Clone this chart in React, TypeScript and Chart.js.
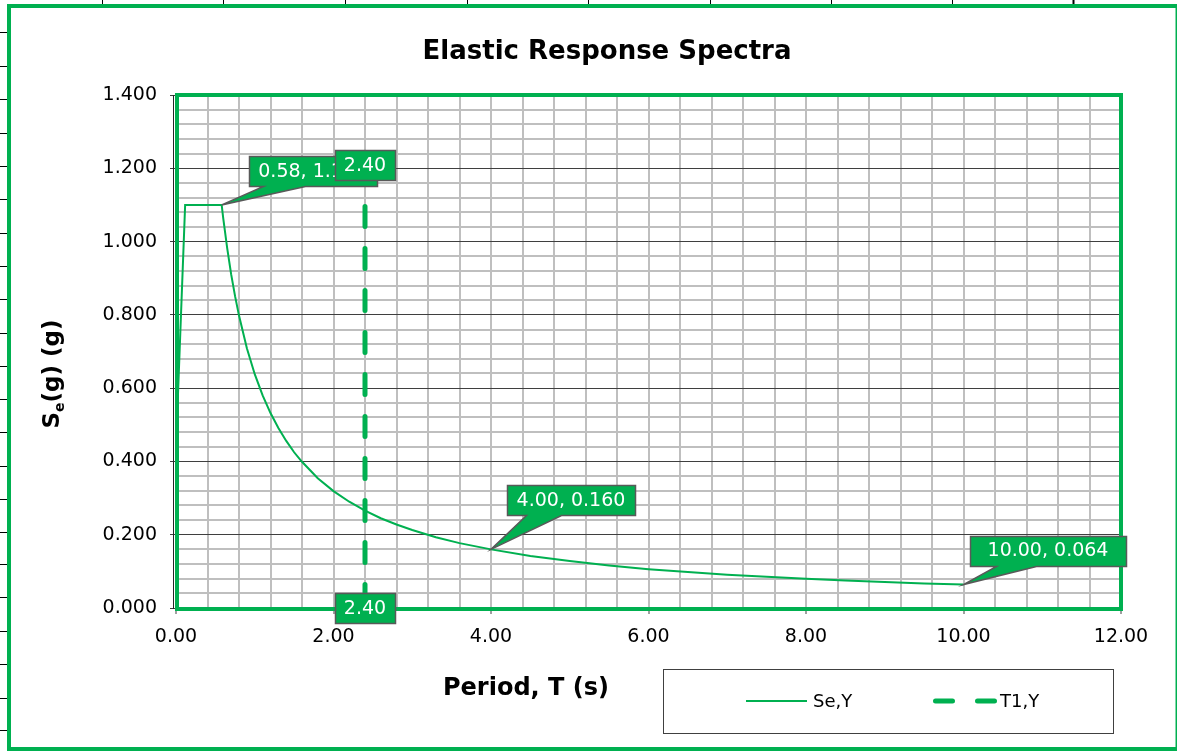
import React, { useEffect, useRef } from "react";
import { Chart, registerables } from "chart.js";

Chart.register(...registerables);

// ---------- data ----------
const chartTitle = "Elastic Response Spectra";
const xAxisTitle = "Period, T (s)";
const yTitleMain = "S";
const yTitleSub = "e";
const yTitleRest = "(g) (g)";
const seriesNames = ["Se,Y", "T1,Y"];

const seT = [0, 0.116, 0.58, 0.6, 0.65, 0.7, 0.75, 0.8, 0.9, 1.0, 1.1, 1.2, 1.3, 1.4, 1.5, 1.6, 1.8, 2.0, 2.2, 2.4, 2.6, 2.8, 3.0, 3.3, 3.6, 4.0, 4.5, 5.0, 5.5, 6.0, 6.5, 7.0, 7.5, 8.0, 8.5, 9.0, 9.5, 10.0];
const seSa = [0.44, 1.1, 1.1, 1.063, 0.982, 0.911, 0.851, 0.798, 0.709, 0.638, 0.58, 0.532, 0.491, 0.456, 0.425, 0.399, 0.354, 0.319, 0.29, 0.266, 0.245, 0.228, 0.213, 0.193, 0.177, 0.16, 0.142, 0.128, 0.116, 0.106, 0.098, 0.091, 0.085, 0.08, 0.075, 0.071, 0.067, 0.064];

const t1T = [2.4, 2.4];
const t1Sa = [1.21, 0];

const seLabelledT = [0.58, 4.0, 10.0];

const xMajorTicks = [0, 2, 4, 6, 8, 10, 12];
const yMajorTicks = [0, 0.2, 0.4, 0.6, 0.8, 1.0, 1.2, 1.4];
const xMinorStep = 0.4;
const yMinorStep = 0.04;

// ---------- styling ----------
const GREEN = "#00B050";
const FONT = "'DejaVu Sans', Verdana, sans-serif";

// decoration of the surrounding sheet
const sheetColX = [102, 223, 345, 467, 588, 710, 831, 952, 1073];
const sheetRowY = [32, 66, 99, 133, 166, 199, 233, 266, 299, 333, 366, 399, 432, 466, 499, 532, 564, 597, 631, 664, 698, 730];

// callout placement (box centre offset from point, pointer base from box left, horizontal padding)
const seCalloutStyle = [
  { dx: 91, dy: -34, b1: 14, b2: 56, pad: 19 },
  { dx: 80, dy: -49.5, b1: 19, b2: 54, pad: 19 },
  { dx: 84.5, dy: -34, b1: 26, b2: 66, pad: 35 },
];

const isMajor = (v: number, majors: number[]) => majors.some((m) => Math.abs(m - v) < 1e-6);

function buildTicks(max: number, step: number) {
  const out: { value: number }[] = [];
  const n = Math.round(max / step);
  for (let i = 0; i <= n; i++) out.push({ value: Math.round(i * step * 1e6) / 1e6 });
  return out;
}

function drawCallout(ctx: CanvasRenderingContext2D, px: number, py: number, text: string, dx: number, dy: number, pad: number, pointer: { b1: number; b2: number } | null) {
  ctx.save();
  ctx.font = `19px ${FONT}`;
  const tw = ctx.measureText(text).width;
  const w = Math.round(tw + pad);
  const h = 30;
  const cx = px + dx;
  const cy = py + dy;
  const l = Math.round(cx - w / 2) + 0.5;
  const t = Math.round(cy - h / 2) + 0.5;
  const r = l + w;
  const b = t + h;
  ctx.beginPath();
  ctx.moveTo(l, t);
  ctx.lineTo(r, t);
  ctx.lineTo(r, b);
  if (pointer) {
    ctx.lineTo(l + pointer.b2, b);
    ctx.lineTo(px, py);
    ctx.lineTo(l + pointer.b1, b);
  }
  ctx.lineTo(l, b);
  ctx.closePath();
  ctx.fillStyle = GREEN;
  ctx.fill();
  ctx.strokeStyle = "#595959";
  ctx.lineWidth = 1.5;
  ctx.lineJoin = "miter";
  ctx.stroke();
  ctx.fillStyle = "#ffffff";
  ctx.textAlign = "center";
  ctx.textBaseline = "middle";
  ctx.fillText(text, cx, cy + 1);
  ctx.restore();
}

const decorPlugin = {
  id: "decor",
  beforeDraw(chart: any) {
    const ctx: CanvasRenderingContext2D = chart.ctx;
    ctx.save();
    ctx.fillStyle = "#ffffff";
    ctx.fillRect(0, 0, chart.width, chart.height);
    // sheet cell lines peeking out
    ctx.strokeStyle = "#000000";
    sheetColX.forEach((x, i) => {
      ctx.lineWidth = i === sheetColX.length - 1 ? 2 : 1;
      ctx.beginPath();
      ctx.moveTo(x + 0.5, 0);
      ctx.lineTo(x + 0.5, 5);
      ctx.stroke();
    });
    ctx.lineWidth = 1;
    sheetRowY.forEach((y) => {
      ctx.beginPath();
      ctx.moveTo(0, y + 0.5);
      ctx.lineTo(8, y + 0.5);
      ctx.stroke();
    });
    // outer frame
    ctx.strokeStyle = GREEN;
    ctx.lineWidth = 4;
    ctx.strokeRect(9, 6, 1168.5, 743);
    // title
    ctx.fillStyle = "#000000";
    ctx.textAlign = "center";
    ctx.textBaseline = "alphabetic";
    ctx.font = `bold 26px ${FONT}`;
    ctx.fillText(chartTitle, 607, 59);
    // x title
    ctx.font = `bold 24px ${FONT}`;
    ctx.fillText(xAxisTitle, 526, 695);
    // y title (rotated, with subscript)
    const mainFont = `bold 23px ${FONT}`;
    const subFont = `bold 14px ${FONT}`;
    ctx.font = mainFont;
    const wS = ctx.measureText(yTitleMain).width;
    const wR = ctx.measureText(yTitleRest).width;
    ctx.font = subFont;
    const wE = ctx.measureText(yTitleSub).width;
    const total = wS + wE + wR;
    ctx.translate(59, 374 + total / 2);
    ctx.rotate(-Math.PI / 2);
    ctx.textAlign = "left";
    ctx.font = mainFont;
    ctx.fillText(yTitleMain, 0, 0);
    ctx.font = subFont;
    ctx.fillText(yTitleSub, wS, 5);
    ctx.font = mainFont;
    ctx.fillText(yTitleRest, wS + wE, 0);
    ctx.restore();

    // legend
    ctx.save();
    ctx.fillStyle = "#ffffff";
    ctx.fillRect(663.5, 669.5, 450, 64);
    ctx.strokeStyle = "#404040";
    ctx.lineWidth = 1;
    ctx.strokeRect(663.5, 669.5, 450, 64);
    ctx.strokeStyle = GREEN;
    ctx.lineWidth = 2;
    ctx.beginPath();
    ctx.moveTo(746, 701);
    ctx.lineTo(807, 701);
    ctx.stroke();
    ctx.lineWidth = 5;
    ctx.lineCap = "round";
    ctx.beginPath();
    ctx.moveTo(935.5, 701);
    ctx.lineTo(952.5, 701);
    ctx.moveTo(977.5, 701);
    ctx.lineTo(994.5, 701);
    ctx.stroke();
    ctx.fillStyle = "#000000";
    ctx.font = `18px ${FONT}`;
    ctx.textAlign = "left";
    ctx.textBaseline = "middle";
    ctx.fillText(seriesNames[0], 813, 702);
    ctx.fillText(seriesNames[1], 1000, 702);
    ctx.restore();
  },
  beforeDatasetsDraw(chart: any) {
    const ctx: CanvasRenderingContext2D = chart.ctx;
    const a = chart.chartArea;
    ctx.save();
    ctx.strokeStyle = "#262626";
    ctx.lineWidth = 1;
    ctx.beginPath();
    ctx.moveTo(173.5, a.top);
    ctx.lineTo(173.5, a.bottom + 1);
    ctx.stroke();
    ctx.strokeStyle = GREEN;
    ctx.lineWidth = 4;
    ctx.strokeRect(a.left + 1, a.top, a.right - a.left - 1, a.bottom - a.top + 1);
    ctx.restore();
  },
  afterDatasetsDraw(chart: any) {
    const ctx: CanvasRenderingContext2D = chart.ctx;
    const xs = chart.scales.x;
    const ys = chart.scales.y;
    seLabelledT.forEach((t, i) => {
      const idx = seT.findIndex((v) => Math.abs(v - t) < 1e-9);
      if (idx < 0) return;
      const px = xs.getPixelForValue(seT[idx]);
      const py = ys.getPixelForValue(seSa[idx]);
      const st = seCalloutStyle[i];
      drawCallout(ctx, px, py, `${seT[idx].toFixed(2)}, ${seSa[idx].toFixed(3)}`, st.dx, st.dy, st.pad, st);
    });
    t1T.forEach((t, i) => {
      const px = xs.getPixelForValue(t);
      const py = ys.getPixelForValue(t1Sa[i]);
      drawCallout(ctx, px, py, t.toFixed(2), 0, 0, 18, null);
    });
  },
};

export default function App() {
  const ref = useRef<HTMLCanvasElement | null>(null);
  useEffect(() => {
    if (!ref.current) return;
    const chart = new Chart(ref.current, {
      type: "scatter",
      data: {
        datasets: [
          {
            label: seriesNames[0],
            data: seT.map((t, i) => ({ x: t, y: seSa[i] })),
            showLine: true,
            borderColor: GREEN,
            backgroundColor: GREEN,
            borderWidth: 2,
            pointRadius: 0,
            tension: 0,
          },
          {
            label: seriesNames[1],
            data: t1T.map((t, i) => ({ x: t, y: t1Sa[i] })),
            showLine: true,
            borderColor: GREEN,
            backgroundColor: GREEN,
            borderWidth: 5,
            borderDash: [20, 22],
            borderCapStyle: "round",
            pointRadius: 0,
            tension: 0,
          },
        ],
      },
      options: {
        animation: false,
        responsive: false,
        devicePixelRatio: 1,
        layout: { padding: { left: 0, top: 95, right: 56, bottom: 0 } },
        plugins: {
          legend: { display: false },
          tooltip: { enabled: false },
          title: { display: false },
        },
        scales: {
          x: {
            type: "linear",
            min: 0,
            max: 12,
            afterBuildTicks: (axis: any) => {
              axis.ticks = buildTicks(12, xMinorStep);
            },
            afterFit: (axis: any) => {
              axis.height = 143;
            },
            border: { display: false },
            grid: {
              color: "#BFBFBF",
              lineWidth: 2,
              tickLength: 6,
              tickWidth: 1,
              tickColor: (c: any) => (c.tick && isMajor(c.tick.value, xMajorTicks) ? "#404040" : "rgba(0,0,0,0)"),
            },
            ticks: {
              autoSkip: false,
              maxRotation: 0,
              padding: 12,
              color: "#000000",
              font: { family: FONT, size: 19 },
              callback: (v: any) => (isMajor(Number(v), xMajorTicks) ? Number(v).toFixed(2) : ""),
            },
          },
          y: {
            type: "linear",
            min: 0,
            max: 1.4,
            afterBuildTicks: (axis: any) => {
              axis.ticks = buildTicks(1.4, yMinorStep);
            },
            afterFit: (axis: any) => {
              axis.width = 176;
            },
            border: { display: false },
            grid: {
              color: (c: any) => (c.tick && isMajor(c.tick.value, yMajorTicks) ? "#3F3F3F" : "#BFBFBF"),
              lineWidth: (c: any) => (c.tick && isMajor(c.tick.value, yMajorTicks) ? 1 : 2),
              tickLength: 6,
              tickWidth: 1,
              tickColor: (c: any) => (c.tick && isMajor(c.tick.value, yMajorTicks) ? "#404040" : "rgba(0,0,0,0)"),
            },
            ticks: {
              autoSkip: false,
              padding: 13,
              color: "#000000",
              font: { family: FONT, size: 19 },
              callback: (v: any) => (isMajor(Number(v), yMajorTicks) ? Number(v).toFixed(3) : ""),
            },
          },
        },
      },
      plugins: [decorPlugin],
    } as any);
    return () => chart.destroy();
  }, []);
  return (
    <div style={{ position: "absolute", left: 0, top: 0, width: 1177, height: 751 }}>
      <canvas ref={ref} width={1177} height={751} style={{ display: "block" }} />
    </div>
  );
}
